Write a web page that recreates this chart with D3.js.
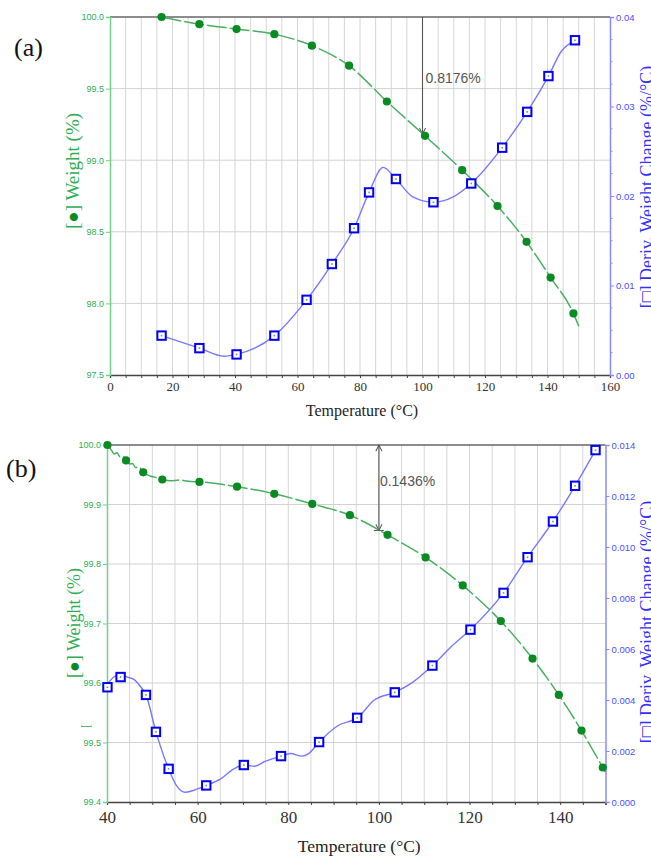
<!DOCTYPE html>
<html>
<head>
<meta charset="utf-8">
<script src="https://cdn.jsdelivr.net/npm/d3@7"></script>
<style>
  body { margin: 0; background: #fff; }
  svg { display: block; }
</style>
</head>
<body>
<svg id="chart" width="651" height="859"></svg>
<script>
// ---------- panel (a) ----------
const tempA_w = [16.5, 28.6, 40.5, 52.6, 64.6, 76.5, 88.6, 100.8, 112.7, 124.0, 133.3, 141.0, 148.3];
const weightA = [100.0, 99.95, 99.916, 99.88, 99.80, 99.66, 99.41, 99.17, 98.93, 98.68, 98.43, 98.18, 97.93];
const weightCurveA = [[16.5, 100.0], [28.6, 99.95], [40.5, 99.916], [52.6, 99.88], [64.6, 99.80], [76.5, 99.66],
  [88.6, 99.41], [100.8, 99.17], [112.7, 98.93], [124.0, 98.68], [133.3, 98.43], [141.0, 98.18], [148.3, 97.93], [150.0, 97.84]];

const tempA_d = [16.5, 28.6, 40.5, 52.6, 62.9, 71.0, 78.1, 82.9, 91.5, 103.5, 115.6, 125.5, 133.5, 140.3, 148.8];
const derivA = [0.0044, 0.0030, 0.0023, 0.0044, 0.0084, 0.0124, 0.0164, 0.0204, 0.0219, 0.0193, 0.0214, 0.0254, 0.0294, 0.0334, 0.0374];
const derivCurveA = [[16.5, 0.0044], [28.6, 0.0030], [36.5, 0.0021], [40.5, 0.0023], [52.6, 0.0044], [62.9, 0.0084],
  [71.0, 0.0124], [78.1, 0.0164], [82.9, 0.0204], [87.4, 0.0232], [91.5, 0.0219], [96.9, 0.0199], [103.5, 0.0193],
  [109.8, 0.0199], [115.6, 0.0214], [125.5, 0.0254], [133.5, 0.0294], [140.3, 0.0334], [144.5, 0.0362], [148.8, 0.0374]];

const xTicksA = [0, 20, 40, 60, 80, 100, 120, 140, 160];
const wTicksA = [97.5, 98.0, 98.5, 99.0, 99.5, 100.0];
const dTicksA = [0.00, 0.01, 0.02, 0.03, 0.04];

// ---------- panel (b) ----------
const tempB_w = [40.1, 44.2, 48.0, 52.2, 60.4, 68.7, 76.9, 85.3, 93.6, 101.9, 110.3, 118.5, 126.9, 133.9, 139.7, 144.7, 149.4];
const weightB = [100.0, 99.974, 99.954, 99.942, 99.938, 99.930, 99.918, 99.901, 99.882, 99.849, 99.811, 99.764, 99.704, 99.641, 99.580, 99.520, 99.458];
const weightCurveB = [[40.0, 100.0], [41.0, 99.991], [41.6, 99.985], [42.2, 99.987], [42.9, 99.980], [43.5, 99.981],
  [44.2, 99.974], [45.0, 99.968], [45.6, 99.969], [46.3, 99.962], [47.0, 99.963], [48.0, 99.954], [49.5, 99.948],
  [50.5, 99.946], [52.2, 99.942], [54.0, 99.940], [56.0, 99.941], [58.0, 99.939], [60.4, 99.938], [68.7, 99.930],
  [76.9, 99.918], [85.3, 99.901], [93.6, 99.882], [101.9, 99.849], [110.3, 99.811], [118.5, 99.764], [126.9, 99.704],
  [133.9, 99.641], [139.7, 99.580], [144.7, 99.520], [149.4, 99.458], [150.0, 99.450]];

const tempB_d = [40.1, 43.0, 48.6, 50.8, 53.6, 61.9, 70.2, 78.4, 86.8, 95.2, 103.5, 111.8, 120.2, 127.5, 132.8, 138.4, 143.3, 147.8];
const derivB = [0.0045, 0.0049, 0.0042, 0.00275, 0.0013, 0.00065, 0.00145, 0.0018, 0.00235, 0.0033, 0.0043, 0.00535, 0.00676, 0.0082, 0.0096, 0.0110, 0.0124, 0.0138];
const derivCurveB = [[40.0, 0.0046], [41.5, 0.0049], [43.0, 0.0050], [44.5, 0.0049], [46.0, 0.0048], [47.5, 0.0045],
  [48.6, 0.0042], [50.8, 0.00275], [53.6, 0.0013], [55.5, 0.0006], [57.2, 0.00038], [59.0, 0.00045], [61.9, 0.00065],
  [65.0, 0.0009], [68.0, 0.0013], [70.2, 0.00145], [72.5, 0.0014], [75.0, 0.0016], [78.4, 0.0018], [80.5, 0.0019],
  [83.0, 0.0018], [84.5, 0.0019], [86.8, 0.00235], [91.0, 0.0030], [95.2, 0.0033], [99.0, 0.0040], [103.5, 0.0043],
  [107.5, 0.0047], [111.8, 0.00535], [116.0, 0.0061], [120.2, 0.00676], [127.5, 0.0082], [132.8, 0.0096],
  [138.4, 0.0110], [143.3, 0.0124], [147.8, 0.0138]];

const xTicksB = [40, 60, 80, 100, 120, 140];
const wTicksB = [99.4, 99.5, 99.6, 99.7, 99.8, 99.9, 100.0];
const dTicksB = [0.000, 0.002, 0.004, 0.006, 0.008, 0.010, 0.012, 0.014];

// colours / fonts
const GREEN = "#0a8a22", GREEN_LINE = "#4aae62", GREEN_TEXT = "#2fae55", GREEN_AXIS = "#74cf8a";
const BLUE = "#0000f2", BLUE_LINE = "#7878ff", BLUE_TEXT = "#4d4dff", BLUE_AXIS = "#8a8aff";
const SANS = "'Liberation Sans', Arial, sans-serif";
const SERIF = "'Liberation Serif', 'Times New Roman', serif";

const svg = d3.select("#chart");

const defs = svg.append("defs");
defs.append("marker")
  .attr("id", "arrow")
  .attr("viewBox", "0 0 10 10")
  .attr("refX", 9).attr("refY", 5)
  .attr("markerWidth", 7).attr("markerHeight", 7)
  .attr("orient", "auto-start-reverse")
  .append("path")
  .attr("d", "M1,1 L9,5 L1,9")
  .attr("fill", "none")
  .attr("stroke", "#555")
  .attr("stroke-width", 1.3);

function panel(o) {
  const g = svg.append("g");
  const x = d3.scaleLinear().domain(o.xDomain).range([o.left, o.right]);
  const yW = d3.scaleLinear().domain(o.wDomain).range([o.bottom, o.top]);
  const yD = d3.scaleLinear().domain(o.dDomain).range([o.bottom, o.top]);
  const every5 = d3.range(o.xDomain[0], o.xDomain[1] + 0.01, 5);

  // grid
  g.append("g").selectAll("line")
    .data(every5.slice(1, -1))
    .join("line")
    .attr("x1", d => x(d)).attr("x2", d => x(d))
    .attr("y1", o.top).attr("y2", o.bottom)
    .attr("stroke", "#d6d6d6").attr("stroke-width", 1);
  g.append("g").selectAll("line")
    .data(o.wTicks.slice(1, -1))
    .join("line")
    .attr("x1", o.left).attr("x2", o.right)
    .attr("y1", d => yW(d)).attr("y2", d => yW(d))
    .attr("stroke", "#d2d2d2").attr("stroke-width", 1);

  // top border
  g.append("line")
    .attr("x1", o.left).attr("x2", o.right)
    .attr("y1", o.top).attr("y2", o.top)
    .attr("stroke", "#666").attr("stroke-width", 1.3);

  // bottom axis
  const xAxis = g.append("g")
    .attr("transform", `translate(0,${o.bottom})`)
    .call(d3.axisBottom(x).tickValues(every5).tickSizeOuter(0).tickSize(3)
      .tickFormat(d => o.xTicks.includes(d) ? d : ""));
  xAxis.select(".domain").attr("stroke", "#444").attr("stroke-width", 1.3);
  xAxis.selectAll(".tick line").attr("stroke", "#444");
  xAxis.selectAll(".tick text")
    .attr("font-family", SERIF).attr("font-size", o.xFont).attr("fill", "#333")
    .attr("dy", o.xDy);

  // left axis
  const lAxis = g.append("g")
    .attr("transform", `translate(${o.left},0)`)
    .call(d3.axisLeft(yW).tickValues(o.wTicks).tickSizeOuter(0).tickSize(4).tickFormat(d3.format(".1f")));
  lAxis.select(".domain").attr("stroke", GREEN_AXIS).attr("stroke-width", 1.5);
  lAxis.selectAll(".tick line").attr("stroke", GREEN_AXIS);
  lAxis.selectAll(".tick text")
    .attr("font-family", SANS).attr("font-size", 9).attr("fill", GREEN_TEXT).attr("x", -6);

  // right axis
  const rAxis = g.append("g")
    .attr("transform", `translate(${o.right},0)`)
    .call(d3.axisRight(yD).tickValues(o.dTicks).tickSizeOuter(0).tickSize(4).tickFormat(d3.format(o.dFmt)));
  rAxis.select(".domain").attr("stroke", BLUE_AXIS).attr("stroke-width", 1.5);
  rAxis.selectAll(".tick line").attr("stroke", BLUE_AXIS);
  rAxis.selectAll(".tick text")
    .attr("font-family", SANS).attr("font-size", 9.5).attr("fill", BLUE_TEXT).attr("x", 6);
  if (o.dMinor) {
    g.append("g").selectAll("line")
      .data(o.dMinor)
      .join("line")
      .attr("x1", o.right).attr("x2", o.right + 2.5)
      .attr("y1", d => yD(d)).attr("y2", d => yD(d))
      .attr("stroke", BLUE_AXIS);
  }

  // axis titles
  g.append("text")
    .attr("x", (o.left + o.right) / 2 + o.xTitleShift).attr("y", o.xTitleY)
    .attr("text-anchor", "middle")
    .attr("font-family", SERIF).attr("font-size", o.xTitleFont).attr("fill", "#222")
    .text("Temperature (°C)");

  const lt = g.append("text")
    .attr("transform", `translate(${o.leftTitleX},${o.leftTitleY}) rotate(-90)`)
    .attr("text-anchor", "middle")
    .attr("font-family", SERIF).attr("font-size", o.leftTitleFont).attr("fill", GREEN_TEXT);
  lt.append("tspan").text("[");
  lt.append("tspan").attr("fill", GREEN).text("●");
  lt.append("tspan").text("] Weight (%)");

  const rt = g.append("text")
    .attr("transform", `translate(653,${o.rightTitleY}) rotate(-90)`)
    .attr("text-anchor", "middle")
    .attr("font-family", SERIF).attr("font-size", 18).attr("fill", "#3030ff");
  rt.append("tspan").text("[");
  rt.append("tspan").attr("fill", BLUE).attr("font-weight", "bold").text("□");
  rt.append("tspan").text("] Deriv. Weight Change (%/°C)");

  // panel letter
  g.append("text")
    .attr("x", o.letterX).attr("y", o.letterY)
    .attr("font-family", SERIF).attr("font-size", 26).attr("fill", "#111")
    .text(o.letter);

  // annotation
  const ax = x(100);
  const endY = yW(100 - o.loss);
  g.append("line")
    .attr("x1", ax).attr("x2", ax)
    .attr("y1", o.top).attr("y2", endY)
    .attr("stroke", "#555").attr("stroke-width", 1.1)
    .attr("marker-end", "url(#arrow)")
    .attr("marker-start", o.doubleArrow ? "url(#arrow)" : null);
  if (o.doubleArrow) {
    g.append("line")
      .attr("x1", ax - 5).attr("x2", ax + 5)
      .attr("y1", endY).attr("y2", endY)
      .attr("stroke", "#555").attr("stroke-width", 1);
  }
  g.append("text")
    .attr("x", ax + o.lossDx).attr("y", o.lossY)
    .attr("font-family", SANS).attr("font-size", 14).attr("fill", "#555")
    .text(o.loss.toFixed(4) + "%");

  // curves
  g.append("path")
    .datum(o.dCurve)
    .attr("fill", "none").attr("stroke", BLUE_LINE).attr("stroke-width", 1.4)
    .attr("d", d3.line().x(d => x(d[0])).y(d => yD(d[1])).curve(d3.curveMonotoneX));
  g.append("path")
    .datum(o.wCurve)
    .attr("fill", "none").attr("stroke", GREEN_LINE).attr("stroke-width", 1.5)
    .attr("stroke-dasharray", "20,3")
    .attr("d", d3.line().x(d => x(d[0])).y(d => yW(d[1])).curve(d3.curveMonotoneX));

  // markers
  const sq = g.append("g").selectAll("g")
    .data(o.dT.map((t, i) => [t, o.dV[i]]))
    .join("g")
    .attr("transform", d => `translate(${x(d[0])},${yD(d[1])})`);
  sq.append("rect")
    .attr("x", -4.2).attr("y", -4.2).attr("width", 8.4).attr("height", 8.4)
    .attr("fill", "#fff").attr("stroke", BLUE).attr("stroke-width", 2);
  sq.append("rect")
    .attr("x", -0.8).attr("y", -0.8).attr("width", 1.6).attr("height", 1.6)
    .attr("fill", "#8888aa");

  g.append("g").selectAll("circle")
    .data(o.wT.map((t, i) => [t, o.wV[i]]))
    .join("circle")
    .attr("cx", d => x(d[0])).attr("cy", d => yW(d[1]))
    .attr("r", 4.1)
    .attr("fill", GREEN);

  return g;
}

panel({
  left: 110, right: 610, top: 17, bottom: 375,
  xDomain: [0, 160], wDomain: [97.5, 100], dDomain: [0, 0.04],
  xTicks: xTicksA, wTicks: wTicksA, dTicks: dTicksA, dFmt: ".2f",
  dMinor: d3.range(0.0025, 0.04, 0.0025).filter(v => Math.abs(v * 100 - Math.round(v * 100)) > 1e-6),
  xFont: 13, xDy: "0.8em", xTitleY: 416, xTitleFont: 16, xTitleShift: 2,
  leftTitleX: 79, leftTitleY: 171, leftTitleFont: 19, rightTitleY: 187,
  letter: "(a)", letterX: 14, letterY: 56,
  loss: 0.8176, lossDx: 3, lossY: 83, doubleArrow: false,
  wCurve: weightCurveA, dCurve: derivCurveA,
  wT: tempA_w, wV: weightA, dT: tempA_d, dV: derivA
});

panel({
  left: 107, right: 605.5, top: 445, bottom: 802,
  xDomain: [40, 150], wDomain: [99.4, 100], dDomain: [0, 0.014],
  xTicks: xTicksB, wTicks: wTicksB, dTicks: dTicksB, dFmt: ".3f",
  dMinor: null,
  xFont: 17, xDy: "0.9em", xTitleY: 852, xTitleFont: 17.5, xTitleShift: 3,
  leftTitleX: 80, leftTitleY: 623, leftTitleFont: 18, rightTitleY: 622,
  letter: "(b)", letterX: 6, letterY: 477,
  loss: 0.1436, lossDx: 1, lossY: 486, doubleArrow: true,
  wCurve: weightCurveB, dCurve: derivCurveB,
  wT: tempB_w, wV: weightB, dT: tempB_d, dV: derivB
});

// stray bracket fragment left of the (b) axis
svg.append("text")
  .attr("transform", "translate(90,726) rotate(-90)")
  .attr("text-anchor", "middle")
  .attr("font-family", SERIF).attr("font-size", 12).attr("fill", GREEN_TEXT)
  .text("[");
</script>
</body>
</html>
